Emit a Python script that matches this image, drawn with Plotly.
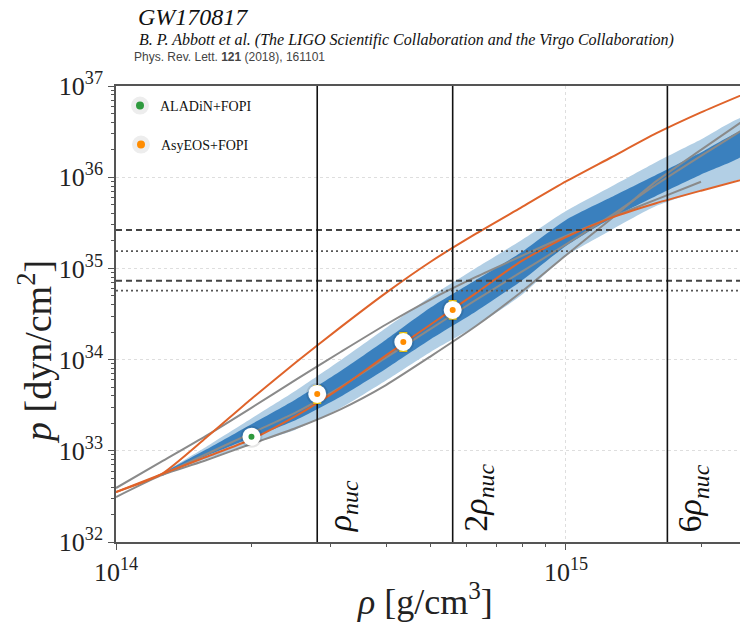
import numpy as np
import plotly.graph_objects as go

# ---------------------------------------------------------------- data
# log10 of rest-mass density [g/cm^3] on a regular grid
log_rho = [14.0, 14.1, 14.2, 14.3, 14.4, 14.5, 14.6, 14.7, 14.8, 14.9, 15.0, 15.1, 15.2, 15.3, 15.4]

# posterior credible regions, log10 p [dyn/cm^2]
band_log_rho = [14.11, 14.2, 14.3, 14.4, 14.5, 14.6, 14.7, 14.8, 14.9, 15.0, 15.1, 15.2, 15.3, 15.4]
p90_upper = [32.768, 33.043, 33.352, 33.661, 33.995, 34.346, 34.692, 35.004, 35.305, 35.629, 35.895, 36.164, 36.413, 36.660]
p50_upper = [32.768, 33.013, 33.289, 33.566, 33.878, 34.218, 34.573, 34.873, 35.174, 35.531, 35.779, 36.024, 36.271, 36.518]
p50_lower = [32.768, 32.943, 33.140, 33.338, 33.595, 33.900, 34.225, 34.527, 34.860, 35.246, 35.548, 35.795, 36.030, 36.265]
p90_lower = [32.768, 32.910, 33.072, 33.234, 33.471, 33.771, 34.087, 34.368, 34.702, 35.135, 35.419, 35.683, 35.857, 36.024]

# orange equation-of-state curves, log10 p on log_rho
eos_stiff = [32.548, 32.741, 33.143, 33.566, 33.971, 34.359, 34.732, 35.076, 35.381, 35.667, 35.953, 36.216, 36.480, 36.711, 36.921]
eos_mid = [32.548, 32.741, 32.932, 33.124, 33.382, 33.692, 34.047, 34.388, 34.729, 35.077, 35.343, 35.554, 35.714, 35.852, 35.985]

# grey curves
grey_a_log_rho = [14.0, 14.1, 14.2, 14.3, 14.4, 14.5, 14.6, 14.7, 14.8, 14.9, 15.0, 15.1, 15.2, 15.3]
grey_a = [32.592, 32.878, 33.164, 33.469, 33.781, 34.086, 34.385, 34.661, 34.906, 35.133, 35.355, 35.559, 35.754, 35.950]
grey_b = [32.493, 32.730, 32.897, 33.075, 33.250, 33.458, 33.721, 34.038, 34.368, 34.739, 35.145, 35.542, 35.954, 36.300, 36.639]
grey_c_log_rho = [14.1, 14.2, 14.3, 14.4, 14.5, 14.6, 14.7, 14.8, 14.9, 15.0, 15.1, 15.2, 15.3, 15.4]
grey_c = [32.730, 32.962, 33.192, 33.422, 33.702, 34.021, 34.340, 34.654, 34.959, 35.263, 35.578, 35.917, 36.234, 36.542]

# heavy-ion constraints
aladin_rho = [2.0e14]
aladin_p = [1.43e33]
aladin_p_hi = [1.62e33]
aladin_p_lo = [1.26e33]

asyeos_rho = [2.8e14, 4.35e14, 5.6e14]
asyeos_p = [4.2e33, 1.56e34, 3.5e34]
asyeos_p_hi = [5.1e33, 1.96e34, 4.4e34]
asyeos_p_lo = [3.35e33, 1.24e34, 2.8e34]

# reference pressure levels
p_dashed = [2.64e35, 7.3e34]
p_dotted = [1.55e35, 5.7e34]

# nuclear saturation density and marked multiples
rho_nuc = 2.8e14
nuc_multiples = [1, 2, 6]
nuc_labels = ["<i>ρ</i><sub><i>nuc</i></sub>", "2<i>ρ</i><sub><i>nuc</i></sub>", "6<i>ρ</i><sub><i>nuc</i></sub>"]

# axis extents (log10) and decade ticks
x_range = [14.0, 15.3867]
y_range = [32.0, 37.0]
x_decades = [14, 15]
y_decades = [32, 33, 34, 35, 36, 37]

# ---------------------------------------------------------------- styling
SERIF = "Liberation Serif"
BLUE_LIGHT = "rgb(178,207,229)"
BLUE_DARK = "rgb(58,128,190)"
ORANGE = "#df632a"
GREY = "#8a8a8a"
AX = "#555555"
GREEN = "#2e9a3e"
AMBER = "#ff8c00"

W, H = 740, 624
ML, MT, MB = 116, 86, 82
PW, PH = W - ML, H - MT - MB


def pw(vals):
    return [10.0 ** v for v in vals]


def px_x(px):
    return (px - ML) / PW


def px_y(py):
    return 1 - (py - MT) / PH


SMOOTH = dict(shape="spline", smoothing=0.6)

fig = go.Figure()

# credible regions
band_rho = pw(band_log_rho)
for hi, lo, col in [(p90_upper, p90_lower, BLUE_LIGHT), (p50_upper, p50_lower, BLUE_DARK)]:
    fig.add_trace(go.Scatter(
        x=band_rho + band_rho[::-1],
        y=pw(hi) + pw(lo)[::-1],
        fill="toself", fillcolor=col, mode="lines", line=dict(width=0, **SMOOTH),
        showlegend=False, hoverinfo="skip"))

# grey curves
for xs, ys in [(grey_a_log_rho, grey_a), (log_rho, grey_b), (grey_c_log_rho, grey_c)]:
    fig.add_trace(go.Scatter(x=pw(xs), y=pw(ys), mode="lines",
                             line=dict(color=GREY, width=2, **SMOOTH),
                             showlegend=False, hoverinfo="skip"))

# orange curves
for ys in [eos_stiff, eos_mid]:
    fig.add_trace(go.Scatter(x=pw(log_rho), y=pw(ys), mode="lines",
                             line=dict(color=ORANGE, width=2, **SMOOTH),
                             showlegend=False, hoverinfo="skip"))

# horizontal pressure levels
rho_span = [10.0 ** x_range[0], 10.0 ** x_range[1]]
for p in p_dashed:
    fig.add_trace(go.Scatter(x=rho_span, y=[p, p], mode="lines",
                             line=dict(color="#444444", width=2, dash="6px,4px"),
                             showlegend=False, hoverinfo="skip"))
for p in p_dotted:
    fig.add_trace(go.Scatter(x=rho_span, y=[p, p], mode="lines",
                             line=dict(color="#555555", width=1.8, dash="2px,3px"),
                             showlegend=False, hoverinfo="skip"))

# vertical density markers
p_span = [10.0 ** y_range[0], 10.0 ** y_range[1]]
for m in nuc_multiples:
    r = m * rho_nuc
    fig.add_trace(go.Scatter(x=[r, r], y=p_span, mode="lines",
                             line=dict(color="#111111", width=1.6),
                             showlegend=False, hoverinfo="skip"))

# soft shadow under the data points
fig.add_trace(go.Scatter(x=aladin_rho + asyeos_rho, y=aladin_p + asyeos_p, mode="markers",
                         marker=dict(size=22, color="rgba(0,0,0,0.10)"),
                         showlegend=False, hoverinfo="skip"))


def err(vals, his, los):
    return dict(type="data", symmetric=False,
                array=[h - v for v, h in zip(vals, his)],
                arrayminus=[v - l for v, l in zip(vals, los)])


fig.add_trace(go.Scatter(
    x=aladin_rho, y=aladin_p, mode="markers", name="ALADiN+FOPI", showlegend=False,
    error_y=dict(**err(aladin_p, aladin_p_hi, aladin_p_lo), color="#111111", thickness=2, width=4),
    marker=dict(size=12, color=GREEN, line=dict(color="white", width=6))))

fig.add_trace(go.Scatter(
    x=asyeos_rho, y=asyeos_p, mode="markers", name="AsyEOS+FOPI", showlegend=False,
    error_y=dict(**err(asyeos_p, asyeos_p_hi, asyeos_p_lo), color="#e3bd12", thickness=2, width=4),
    marker=dict(size=12, color=AMBER, line=dict(color="white", width=6))))

# legend keys: white disc with a faint rim around the coloured dot
for name, col, leg in [("ALADiN+FOPI", GREEN, "legend"), ("AsyEOS+FOPI", AMBER, "legend2")]:
    fig.add_trace(go.Scatter(
        x=[None], y=[None], mode="markers", name=name, legend=leg,
        marker=dict(size=13, color=col, line=dict(color="#ededed", width=5))))


# ---------------------------------------------------------------- axes
def decade_ticks(decades):
    vals = [10.0 ** d for d in decades]
    text = ["10<sup>%d</sup>" % d for d in decades]
    return vals, text


def minor_vals(lo, hi):
    return [k * 10.0 ** n for n in range(lo, hi) for k in range(2, 10)]


axis_common = dict(
    type="log", automargin=False,
    showline=True, linecolor=AX, linewidth=1.5,
    ticks="outside", ticklen=6, tickwidth=1.2, tickcolor=AX,
    showgrid=True, gridcolor="#dedede", gridwidth=1, griddash="dot",
    tickfont=dict(family=SERIF, size=26, color="#222222"),
    zeroline=False,
)

xv, xt = decade_ticks(x_decades)
yv, yt = decade_ticks(y_decades)

fig.update_xaxes(range=x_range, mirror=True, tickmode="array", tickvals=xv, ticktext=xt,
                 minor=dict(ticks="outside", ticklen=3, tickwidth=1, tickcolor=AX,
                            tickmode="array", tickvals=minor_vals(14, 16), showgrid=False),
                 **axis_common)
fig.update_yaxes(range=y_range, tickmode="array", tickvals=yv, ticktext=yt,
                 minor=dict(ticks="outside", ticklen=3, tickwidth=1, tickcolor=AX,
                            tickmode="array", tickvals=minor_vals(32, 37), showgrid=False),
                 **axis_common)

annotations = []
# rotated density labels
for m, lab in zip(nuc_multiples, nuc_labels):
    annotations.append(dict(
        x=np.log10(m * rho_nuc), y=0, xref="x", yref="paper",
        text=lab, textangle=-90, showarrow=False,
        xanchor="left", yanchor="bottom", xshift=2, yshift=8,
        font=dict(family=SERIF, size=34, color="#111111")))

# axis titles
annotations.append(dict(
    x=px_x(425), y=px_y(599), xref="paper", yref="paper",
    text="<i>ρ</i> [g/cm<sup>3</sup>]", showarrow=False,
    xanchor="center", yanchor="middle",
    font=dict(family=SERIF, size=36, color="#222222")))
annotations.append(dict(
    x=px_x(35), y=px_y(352), xref="paper", yref="paper",
    text="<i>p</i> [dyn/cm<sup>2</sup>]", textangle=-90, showarrow=False,
    xanchor="center", yanchor="middle",
    font=dict(family=SERIF, size=38, color="#222222")))

# header
annotations.append(dict(
    x=px_x(136), y=px_y(17), xref="paper", yref="paper",
    text="<i>GW170817</i>", showarrow=False, xanchor="left", yanchor="middle",
    font=dict(family=SERIF, size=24, color="#111111")))
annotations.append(dict(
    x=px_x(137), y=px_y(40), xref="paper", yref="paper",
    text="<i>B. P. Abbott et al. (The LIGO Scientific Collaboration and the Virgo Collaboration)</i>",
    showarrow=False, xanchor="left", yanchor="middle",
    font=dict(family=SERIF, size=16, color="#111111")))
annotations.append(dict(
    x=px_x(132), y=px_y(57), xref="paper", yref="paper",
    text="Phys. Rev. Lett. <b>121</b> (2018), 161101", showarrow=False,
    xanchor="left", yanchor="middle",
    font=dict(family="Liberation Sans", size=12, color="#444444")))

legend_style = dict(bgcolor="rgba(0,0,0,0)", borderwidth=0,
                    font=dict(family=SERIF, size=14, color="#111111"),
                    xanchor="left", yanchor="middle")

fig.update_layout(
    width=W, height=H,
    margin=dict(l=ML, r=0, t=MT, b=MB, pad=0, autoexpand=False),
    paper_bgcolor="white", plot_bgcolor="white",
    annotations=annotations,
    legend=dict(x=px_x(120), y=px_y(106), **legend_style),
    legend2=dict(x=px_x(121), y=px_y(145), **legend_style),
    hovermode=False,
)

fig.write_html("out.html")
